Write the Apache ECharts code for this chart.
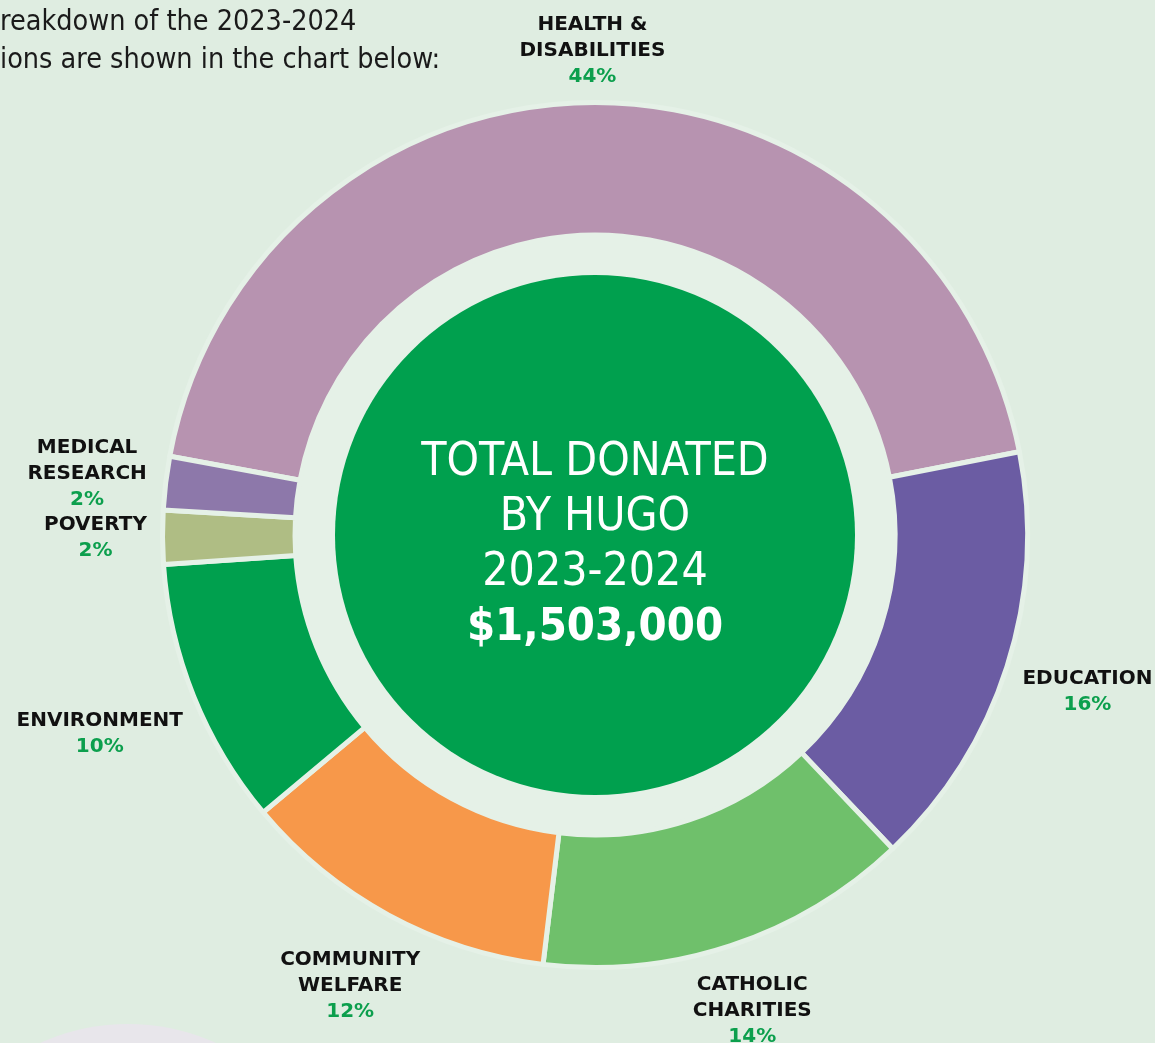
<!DOCTYPE html>
<html>
<head>
<meta charset="utf-8">
<style>
  html, body { margin: 0; padding: 0; background: #dfede1; }
  #chart { width: 1155px; height: 1043px; }
</style>
<script src="https://cdn.jsdelivr.net/npm/echarts@6/dist/echarts.min.js"></script>
</head>
<body>
<div id="chart"></div>
<script>
// ---- data ----
const categories = ['HEALTH &\nDISABILITIES', 'EDUCATION', 'CATHOLIC\nCHARITIES', 'COMMUNITY\nWELFARE', 'ENVIRONMENT', 'POVERTY', 'MEDICAL\nRESEARCH'];
const values = [44, 16, 14, 12, 10, 2, 2];
const sliceColors = ['#b793b0', '#6b5ca3', '#6fc06b', '#f7984a', '#00a04e', '#afbd84', '#8d78aa'];
const centerLines = ['TOTAL DONATED', 'BY HUGO', '2023-2024'];
const totalText = '$1,503,000';
const introLines = ['reakdown of the 2023-2024', 'ions are shown in the chart below:'];

// ---- layout ----
const CX = 595, CY = 535;
const R_OUT = 432.5, R_IN = 300;
const START = 169.5;
const LABEL_GAP = 18;
const total = values.reduce((a, b) => a + b, 0);
const cum = [];
values.reduce((acc, v, i) => { cum[i] = acc; return acc + v; }, 0);

const chart = echarts.init(document.getElementById('chart'));
const labelFont = "'DejaVu Sans', sans-serif";
const centerFont = "'DejaVu Sans Condensed', 'DejaVu Sans', sans-serif";

chart.setOption({
  backgroundColor: '#dfede1',
  animation: false,
  graphic: [
    {
      type: 'circle', silent: true, z: 0,
      shape: { cx: 128, cy: 1237, r: 213 },
      style: { fill: '#e8e6eb' }
    },
    {
      type: 'text', left: 0, top: 4, silent: true,
      style: {
        text: introLines.join('\n'),
        font: "28.5px " + centerFont,
        fill: '#1a1a1a',
        lineHeight: 38
      }
    }
  ],
  series: [
    {
      type: 'pie', silent: true, z: 1,
      center: [CX, CY], radius: [0, 434],
      label: { show: false }, labelLine: { show: false },
      itemStyle: { color: '#e5f1e7' },
      data: [{ value: 1, name: 'ring' }]
    },
    {
      type: 'pie', silent: true, z: 2,
      center: [CX, CY], radius: [R_IN, R_OUT],
      startAngle: START, clockwise: true,
      itemStyle: { borderColor: '#e5f1e7', borderWidth: 5 },
      label: {
        show: true,
        position: 'outside',
        overflow: 'none',
        edgeDistance: 0,
        formatter: p => '{n|' + p.name + '}\n{p|' + p.value + '%}',
        rich: {
          n: { fontFamily: labelFont, fontWeight: 'bold', fontSize: 20, color: '#111111', lineHeight: 26, align: 'center' },
          p: { fontFamily: labelFont, fontWeight: 'bold', fontSize: 20, color: '#0c9f4d', lineHeight: 26, align: 'center' }
        }
      },
      labelLine: { show: false },
      labelLayout: function (params) {
        const i = params.dataIndex;
        const a = (START - (cum[i] + values[i] / 2) / total * 360) * Math.PI / 180;
        const c = Math.cos(a), s = Math.sin(a);
        const w = params.labelRect.width, h = params.labelRect.height;
        const d = 430 + LABEL_GAP + Math.abs(c) * w / 2 + Math.abs(s) * h / 2;
        return { x: CX + d * c, y: CY - d * s, align: 'center', verticalAlign: 'middle' };
      },
      data: categories.map((n, i) => ({ name: n, value: values[i], itemStyle: { color: sliceColors[i] } }))
    },
    {
      type: 'pie', silent: true, z: 3,
      center: [CX, CY], radius: [0, 260],
      itemStyle: { color: '#00a04e' },
      labelLine: { show: false },
      label: {
        show: true, position: 'center',
        formatter: () => centerLines.map(t => '{t|' + t + '}').join('\n') + '\n{b|' + totalText + '}',
        padding: [22, 0, 0, 0],
        rich: {
          t: { fontFamily: centerFont, fontSize: 46, color: '#ffffff', lineHeight: 55, align: 'center' },
          b: { fontFamily: centerFont, fontSize: 45, fontWeight: 'bold', color: '#ffffff', lineHeight: 55, align: 'center' }
        }
      },
      data: [{ value: 1, name: 'total' }]
    }
  ]
});
</script>
</body>
</html>
